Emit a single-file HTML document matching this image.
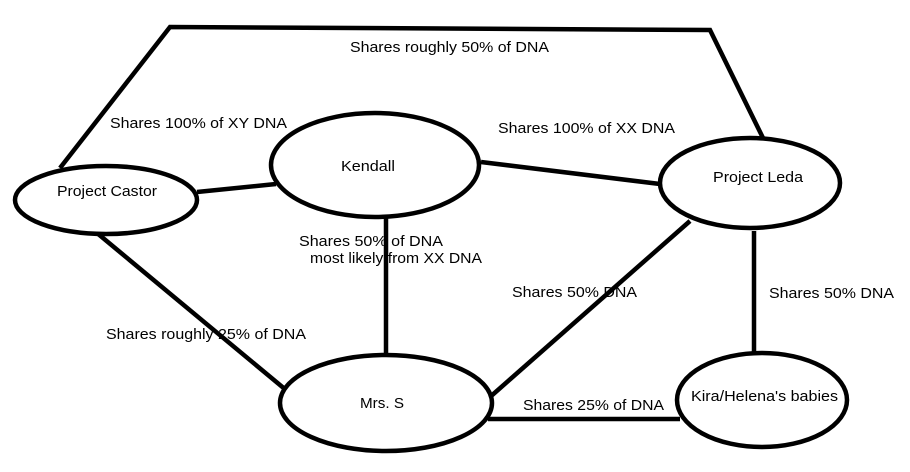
<!DOCTYPE html>
<html><head><style>
body{margin:0;background:#fff;}
svg{display:block}
text{font-family:"Liberation Sans",Arial,sans-serif;font-size:15px;fill:#000}
</style></head><body>
<svg width="910" height="472" viewBox="0 0 910 472" xmlns="http://www.w3.org/2000/svg">
<g stroke="#000" stroke-width="4.5" fill="none" stroke-linejoin="miter">
<polyline points="60,168 170,27 710,30 763,138"/>
<line x1="197" y1="192" x2="276" y2="184"/>
<line x1="481" y1="162" x2="660" y2="184"/>
<line x1="386" y1="217" x2="386" y2="356"/>
<line x1="97" y1="233" x2="286" y2="390"/>
<line x1="690" y1="221" x2="490" y2="397"/>
<line x1="754" y1="231" x2="754" y2="353"/>
<line x1="488" y1="419" x2="680" y2="419"/>
<ellipse cx="106" cy="200" rx="91" ry="34" fill="#fff"/>
<ellipse cx="375" cy="165" rx="104" ry="52" fill="#fff"/>
<ellipse cx="750" cy="183" rx="90" ry="45" fill="#fff"/>
<ellipse cx="386" cy="403" rx="106" ry="48" fill="#fff"/>
<ellipse cx="762" cy="400" rx="85" ry="47" fill="#fff"/>
</g>
<text x="350" y="52" textLength="199" lengthAdjust="spacingAndGlyphs">Shares roughly 50% of DNA</text>
<text x="110" y="128" textLength="177" lengthAdjust="spacingAndGlyphs">Shares 100% of XY DNA</text>
<text x="498" y="133" textLength="177" lengthAdjust="spacingAndGlyphs">Shares 100% of XX DNA</text>
<text x="57" y="196" textLength="100" lengthAdjust="spacingAndGlyphs">Project Castor</text>
<text x="341" y="171" textLength="54" lengthAdjust="spacingAndGlyphs">Kendall</text>
<text x="713" y="182" textLength="90" lengthAdjust="spacingAndGlyphs">Project Leda</text>
<text x="299" y="246" textLength="144" lengthAdjust="spacingAndGlyphs">Shares 50% of DNA</text>
<text x="310" y="263" textLength="172" lengthAdjust="spacingAndGlyphs">most likely from XX DNA</text>
<text x="512" y="297" textLength="125" lengthAdjust="spacingAndGlyphs">Shares 50% DNA</text>
<text x="769" y="298" textLength="125" lengthAdjust="spacingAndGlyphs">Shares 50% DNA</text>
<text x="106" y="339" textLength="200" lengthAdjust="spacingAndGlyphs">Shares roughly 25% of DNA</text>
<text x="360" y="408" textLength="44" lengthAdjust="spacingAndGlyphs">Mrs. S</text>
<text x="523" y="410" textLength="141" lengthAdjust="spacingAndGlyphs">Shares 25% of DNA</text>
<text x="691" y="401" textLength="147" lengthAdjust="spacingAndGlyphs">Kira/Helena's babies</text>
</svg>
</body></html>
